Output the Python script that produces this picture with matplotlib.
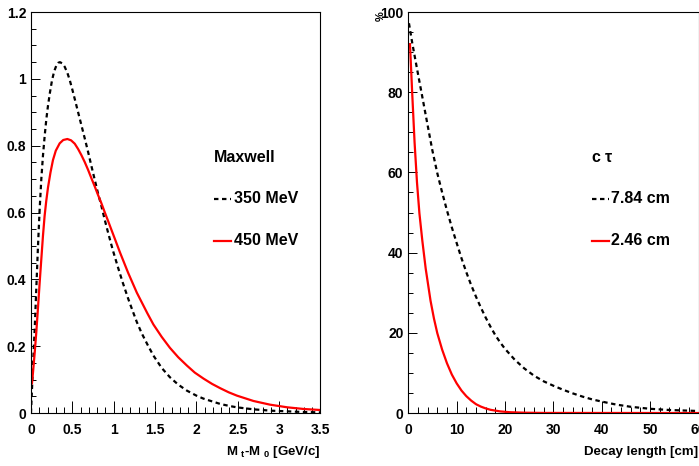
import matplotlib
matplotlib.use('Agg')
import matplotlib.pyplot as plt
from matplotlib.ticker import MultipleLocator

plt.rcParams['font.family'] = ['Liberation Sans', 'DejaVu Sans']
plt.rcParams['font.weight'] = 'bold'
plt.rcParams['mathtext.fontset'] = 'custom'
plt.rcParams['mathtext.rm'] = 'Liberation Sans:bold'
plt.rcParams['mathtext.bf'] = 'Liberation Sans:bold'
plt.rcParams['mathtext.it'] = 'Liberation Sans:bold'

# left panel: Maxwell distributions
mx_350 = [0.0, 0.024, 0.045, 0.064, 0.085, 0.105, 0.125, 0.145, 0.166, 0.186, 0.206,
          0.23, 0.254, 0.28, 0.307, 0.33, 0.35, 0.38, 0.408, 0.44, 0.468, 0.5, 0.529,
          0.57, 0.609, 0.65, 0.69, 0.73, 0.771, 0.81, 0.851, 0.89, 0.932, 0.99, 1.053,
          1.11, 1.174, 1.23, 1.28, 1.34, 1.408, 1.48, 1.58, 1.68, 1.78, 1.885, 2.0,
          2.086, 2.2, 2.29, 2.4, 2.49, 2.69, 2.9, 3.1, 3.3, 3.5]
my_350 = [0.0, 0.14, 0.25, 0.37, 0.5, 0.61, 0.7, 0.77, 0.83, 0.88, 0.92,
          0.96, 0.995, 1.022, 1.04, 1.048, 1.05, 1.046, 1.036, 1.018, 0.997, 0.968, 0.94,
          0.9, 0.862, 0.822, 0.782, 0.74, 0.698, 0.658, 0.62, 0.58, 0.54, 0.487, 0.435,
          0.39, 0.343, 0.305, 0.272, 0.238, 0.205, 0.172, 0.135, 0.107, 0.085, 0.067, 0.052,
          0.043, 0.034, 0.027, 0.021, 0.017, 0.011, 0.007, 0.005, 0.003, 0.002]
mx_450 = [0.012, 0.024, 0.045, 0.064, 0.085, 0.105, 0.125, 0.145, 0.165, 0.185, 0.206,
          0.236, 0.266, 0.3, 0.347, 0.39, 0.44, 0.485, 0.529, 0.57, 0.609, 0.65, 0.69,
          0.73, 0.771, 0.81, 0.851, 0.89, 0.932, 0.97, 1.013, 1.077, 1.174, 1.28, 1.408,
          1.48, 1.58, 1.68, 1.78, 1.885, 1.98, 2.086, 2.19, 2.29, 2.39, 2.49, 2.69, 2.89,
          3.1, 3.3, 3.5]
my_450 = [0.089, 0.12, 0.18, 0.24, 0.315, 0.39, 0.46, 0.53, 0.59, 0.635, 0.675,
          0.72, 0.757, 0.785, 0.807, 0.817, 0.82, 0.816, 0.806, 0.79, 0.772, 0.751, 0.728,
          0.703, 0.678, 0.653, 0.628, 0.602, 0.575, 0.55, 0.522, 0.48, 0.42, 0.36, 0.298,
          0.265, 0.228, 0.195, 0.167, 0.142, 0.121, 0.103, 0.087, 0.074, 0.062, 0.052,
          0.036, 0.025, 0.017, 0.012, 0.009]

# right panel: decay length distributions
dx_784 = [0.14, 0.83, 1.86, 2.89, 3.93, 4.96, 6.0, 7.0, 8.0, 9.0, 10.0, 11.0, 12.0,
          13.0, 14.0, 15.0, 16.0, 17.0, 18.0, 19.0, 20.0, 22.0, 24.0, 26.0, 28.0, 30.0,
          32.0, 34.0, 36.0, 38.0, 40.0, 43.0, 46.0, 50.0, 54.0, 60.0]
dy_784 = [97.2, 92.2, 85.5, 78.9, 72.2, 65.6, 59.8, 55.0, 50.5, 46.3, 42.4, 38.6, 35.1,
          31.9, 29.0, 26.3, 23.8, 21.5, 19.4, 17.6, 16.0, 13.3, 11.1, 9.3, 7.9, 6.8,
          5.8, 4.9, 4.1, 3.4, 2.85, 2.1, 1.55, 1.05, 0.75, 0.5]
dx_246 = [0.35, 0.8, 1.3, 1.8, 2.3, 2.9, 3.6, 4.6, 5.3, 6.0, 7.0, 8.0, 9.0, 10.0,
          11.0, 12.0, 13.0, 14.0, 15.0, 16.0, 17.0, 19.0, 21.0, 24.0, 28.0, 60.0]
dy_246 = [92.0, 80.0, 67.5, 57.5, 49.8, 43.0, 36.0, 28.0, 23.6, 19.9, 15.8, 12.4, 9.6,
          7.4, 5.6, 4.2, 3.1, 2.2, 1.6, 1.15, 0.8, 0.4, 0.2, 0.08, 0.02, 0.0]

fig = plt.figure(figsize=(6.99, 4.66), dpi=100)
ax1 = fig.add_axes([0.0443, 0.1137, 0.4142, 0.8605])
ax2 = fig.add_axes([0.5841, 0.1137, 0.4152, 0.8605])

dash = (2.0, 1.6)
legend_size = 11.5


def style(ax):
    ax.tick_params(axis='x', which='major', direction='in', length=8.6, width=0.7,
                   pad=7, labelsize=10)
    ax.tick_params(axis='x', which='minor', direction='in', length=4.3, width=0.7)
    ax.tick_params(axis='y', which='major', direction='in', length=6.5, width=0.7,
                   pad=3.5, labelsize=10)
    ax.tick_params(axis='y', which='minor', direction='in', length=3.3, width=0.7)
    for s in ax.spines.values():
        s.set_linewidth(0.8)
    for lab in ax.get_xticklabels() + ax.get_yticklabels():
        lab.set_fontweight('bold')


ax1.plot(mx_350, my_350, color='black', lw=1.6, dashes=dash)
ax1.plot(mx_450, my_450, color='red', lw=1.6)
ax1.set_xlim(0, 3.5)
ax1.set_ylim(0, 1.2)
ax1.xaxis.set_minor_locator(MultipleLocator(0.1))
ax1.yaxis.set_minor_locator(MultipleLocator(0.05))
ax1.set_xticks([0, 0.5, 1, 1.5, 2, 2.5, 3, 3.5], ['0', '0.5', '1', '1.5', '2', '2.5', '3', '3.5'])
ax1.set_yticks([0, 0.2, 0.4, 0.6, 0.8, 1.0, 1.2], ['0', '0.2', '0.4', '0.6', '0.8', '1', '1.2'])
style(ax1)
ax1.text(1.0, -0.097, r'M $_{t}$-M $_{0}$ [GeV/c]', transform=ax1.transAxes,
         ha='right', va='center', fontsize=9.5, fontweight='bold')

ax1.text(0.632, 0.636, 'Maxwell', transform=ax1.transAxes, fontsize=legend_size,
         fontweight='bold', va='center')
ax1.plot([0.632, 0.69], [0.534, 0.534], transform=ax1.transAxes, color='black',
         lw=1.6, dashes=dash)
ax1.text(0.70, 0.534, '350 MeV', transform=ax1.transAxes, fontsize=legend_size,
         fontweight='bold', va='center')
ax1.plot([0.632, 0.69], [0.429, 0.429], transform=ax1.transAxes, color='red', lw=1.6)
ax1.text(0.70, 0.429, '450 MeV', transform=ax1.transAxes, fontsize=legend_size,
         fontweight='bold', va='center')

ax2.plot(dx_784, dy_784, color='black', lw=1.6, dashes=dash)
ax2.plot(dx_246, dy_246, color='red', lw=1.6)
ax2.set_xlim(0, 60)
ax2.set_ylim(0, 100)
ax2.xaxis.set_major_locator(MultipleLocator(10))
ax2.xaxis.set_minor_locator(MultipleLocator(2))
ax2.yaxis.set_major_locator(MultipleLocator(20))
ax2.yaxis.set_minor_locator(MultipleLocator(5))
style(ax2)
ax2.text(1.0, -0.097, 'Decay length [cm]', transform=ax2.transAxes,
         ha='right', va='center', fontsize=9.5, fontweight='bold')
fig.text(381 / 699, 1 - 16 / 466, '%', rotation=90, ha='center', va='center',
         fontsize=8, fontweight='bold')

ax2.text(0.630, 0.636, r'c $\tau$', transform=ax2.transAxes, fontsize=legend_size,
         fontweight='bold', va='center')
ax2.plot([0.633, 0.69], [0.534, 0.534], transform=ax2.transAxes, color='black',
         lw=1.6, dashes=dash)
ax2.text(0.698, 0.534, '7.84 cm', transform=ax2.transAxes, fontsize=legend_size,
         fontweight='bold', va='center')
ax2.plot([0.633, 0.69], [0.429, 0.429], transform=ax2.transAxes, color='red', lw=1.6)
ax2.text(0.698, 0.429, '2.46 cm', transform=ax2.transAxes, fontsize=legend_size,
         fontweight='bold', va='center')

fig.savefig('out.png', dpi=100)
